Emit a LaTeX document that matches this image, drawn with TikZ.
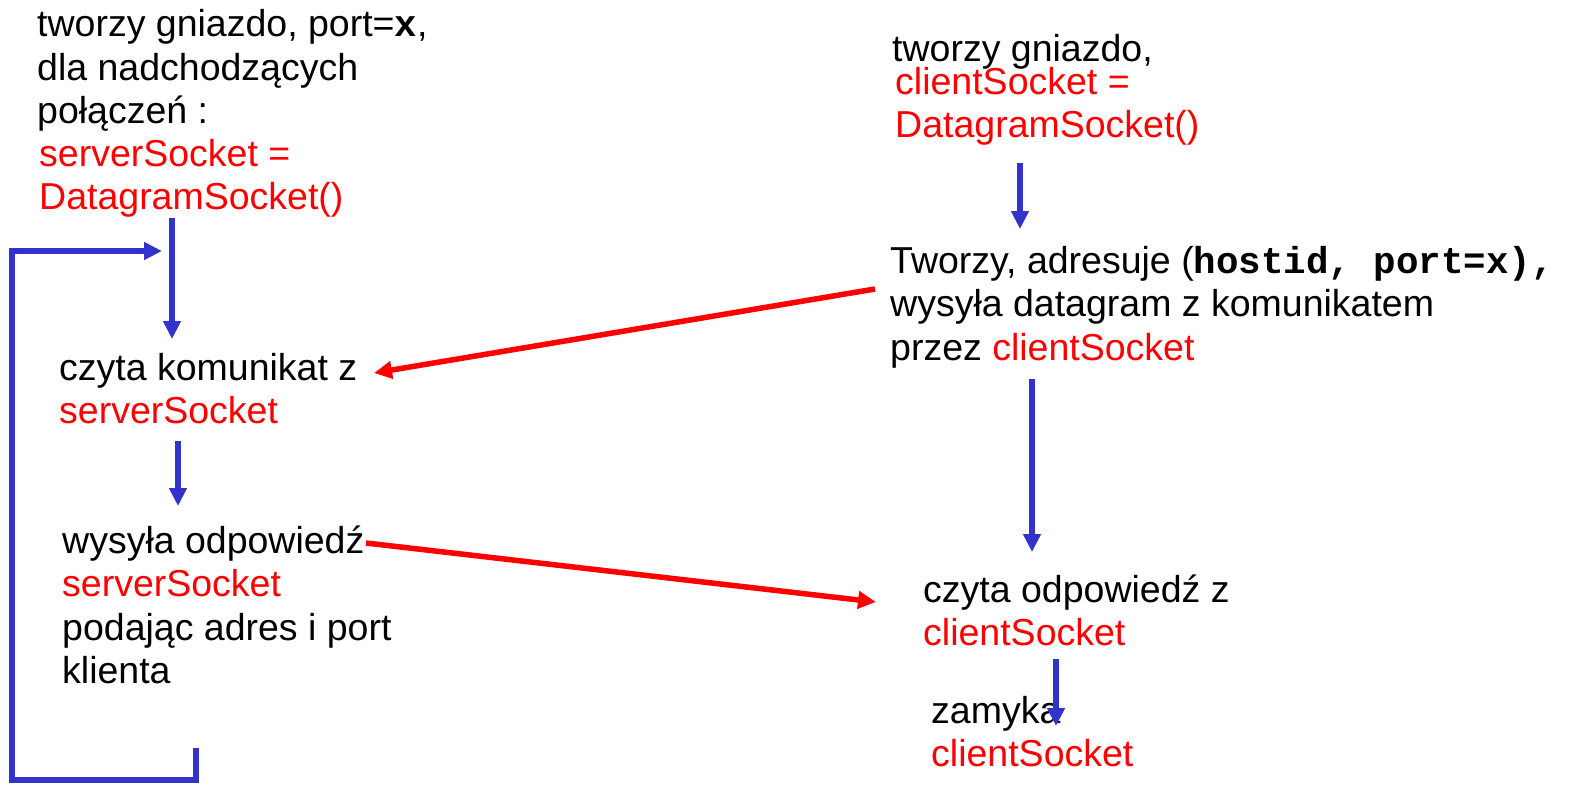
\documentclass[tikz,border=0pt]{standalone}
\usepackage{fontspec}
\setmainfont{Liberation Sans}
\newfontfamily\courfont{Liberation Mono}
\usetikzlibrary{arrows.meta}
\definecolor{flowblue}{RGB}{51,51,204}
\definecolor{sockred}{RGB}{255,0,0}
\newcommand\cb[1]{{\courfont\bfseries #1}}
\newcommand\rd[1]{\textcolor{sockred}{#1}}
\begin{document}
\begin{tikzpicture}[x=1pt,y=-1pt,
  txt/.style={anchor=base west, inner sep=0pt, font=\fontsize{37.5}{43.5}\selectfont, text=black},
  blu/.style={draw=flowblue, line width=5.5pt, line join=miter, -{Triangle[length=18pt,width=17pt]}},
  redarr/.style={draw=sockred, line width=5.5pt, -{Triangle[length=18pt,width=17pt]}}]
\path[use as bounding box] (0,0) rectangle (1570,784);
% texts
\node[txt] (srvmk) at (37,37) {\vtop{\hbox{tworzy gniazdo, port=\cb{x},}\hbox{dla nadchodzących}\hbox{połączeń :}}};
\node[txt,text=sockred] (srvsock) at (39,166) {\vtop{\hbox{serverSocket =}\hbox{DatagramSocket()}}};
\node[txt] (climk) at (892,62) {tworzy gniazdo,};
\node[txt,text=sockred] (clisock) at (895,94) {\vtop{\hbox{clientSocket =}\hbox{DatagramSocket()}}};
\node[txt] (clisend) at (890,273) {\vtop{\hbox{Tworzy, adresuje (\cb{hostid, port=x),}}\hbox{wysyła datagram z komunikatem}\hbox{przez \rd{clientSocket}}}};
\node[txt] (srvread) at (59,380) {\vtop{\hbox{czyta komunikat z}\hbox{\rd{serverSocket}}}};
\node[txt] (srvsend) at (62,553) {\vtop{\hbox{wysyła odpowiedź}\hbox{\rd{serverSocket}}\hbox{podając adres i port}\hbox{klienta}}};
\node[txt] (cliread) at (923,602) {\vtop{\hbox{czyta odpowiedź z}\hbox{\rd{clientSocket}}}};
\node[txt] (cliclose) at (931,723) {\vtop{\hbox{zamyka}\hbox{\rd{clientSocket}}}};
% connector ends
\coordinate (a1s) at (172,218); \coordinate (a1e) at (172,339);
\coordinate (a2s) at (178,441); \coordinate (a2e) at (178,506);
\coordinate (b1s) at (1020,163); \coordinate (b1e) at (1020,229);
\coordinate (b2s) at (1032,379); \coordinate (b2e) at (1032,552);
\coordinate (b3s) at (1056,659); \coordinate (b3e) at (1056,726);
\coordinate (l0) at (196,748); \coordinate (l1) at (196,780);
\coordinate (l2) at (12,780); \coordinate (l3) at (12,251); \coordinate (l4) at (162,251);
\coordinate (r1s) at (875,289); \coordinate (r1e) at (374,373);
\coordinate (r2s) at (366,543); \coordinate (r2e) at (876,602);
% connectors
\draw[blu] (a1s) -- (a1e);
\draw[blu] (a2s) -- (a2e);
\draw[blu] (b1s) -- (b1e);
\draw[blu] (b2s) -- (b2e);
\draw[blu] (b3s) -- (b3e);
\draw[blu] (l0) -- (l1) -- (l2) -- (l3) -- (l4);
\draw[redarr] (r1s) -- (r1e);
\draw[redarr] (r2s) -- (r2e);
\end{tikzpicture}
\end{document}
